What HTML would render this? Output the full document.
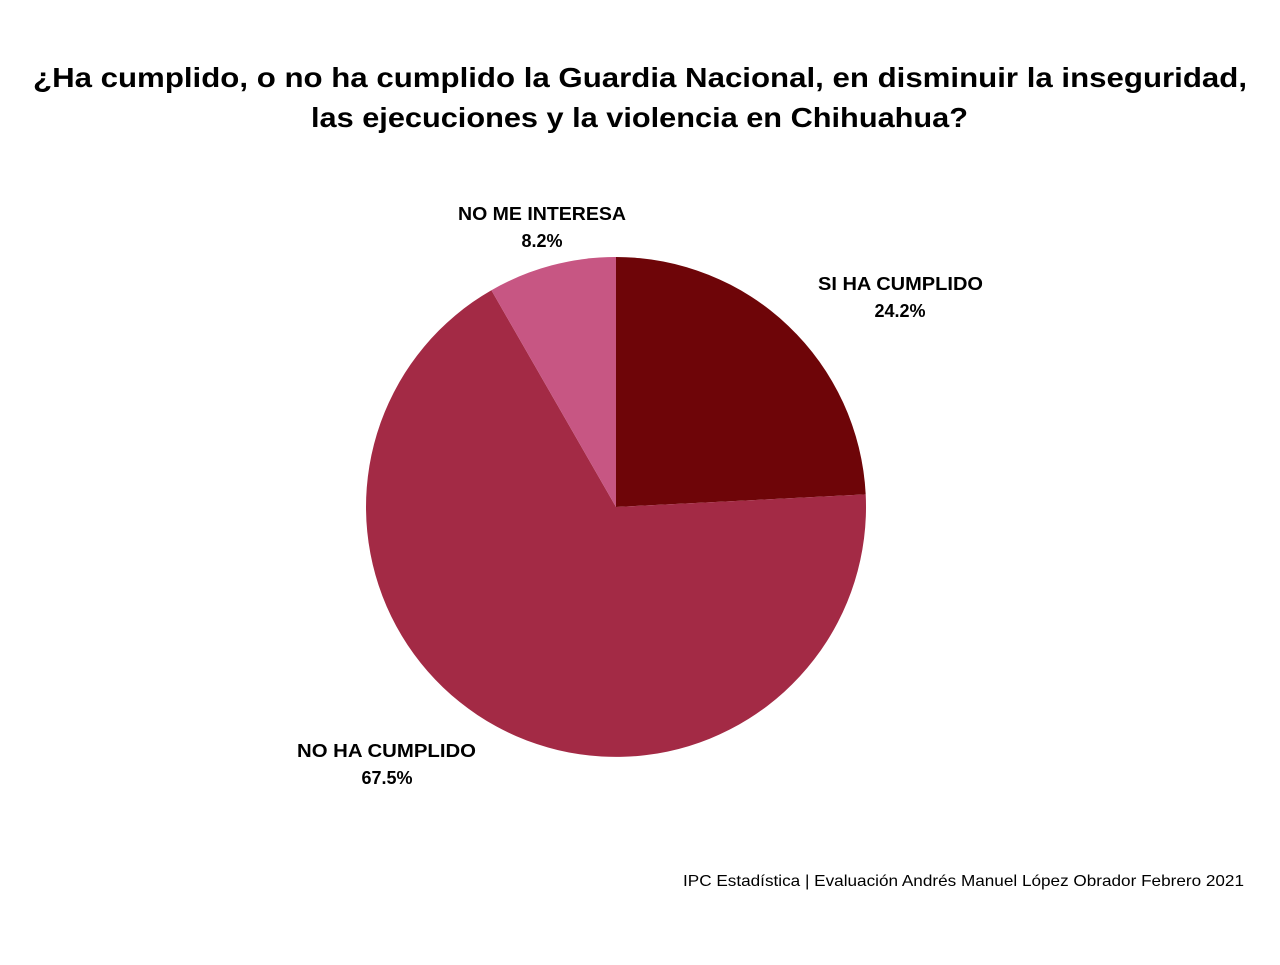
<!DOCTYPE html>
<html><head><meta charset="utf-8"><style>
body{margin:0;background:#fff;width:1280px;height:960px;overflow:hidden;font-family:"Liberation Sans",sans-serif;}
</style></head><body>
<svg width="1280" height="960" xmlns="http://www.w3.org/2000/svg" font-family="Liberation Sans, sans-serif">
<text x="33" y="87" textLength="1214" lengthAdjust="spacingAndGlyphs" font-size="28" font-weight="bold" fill="#000">¿Ha cumplido, o no ha cumplido la Guardia Nacional, en disminuir la inseguridad,</text>
<text x="311" y="127" textLength="657" lengthAdjust="spacingAndGlyphs" font-size="28" font-weight="bold" fill="#000">las ejecuciones y la violencia en Chihuahua?</text>
<path d="M616,507 L616,257 A250,250 0 0 1 865.7,494.4 Z" fill="#6e0508"/>
<path d="M616,507 L865.7,494.4 A250,250 0 1 1 491.4,290.2 Z" fill="#a32a45"/>
<path d="M616,507 L491.4,290.2 A250,250 0 0 1 616,257 Z" fill="#c75683"/>
<g font-size="18" font-weight="bold" fill="#000">
<text x="458" y="220" textLength="168" lengthAdjust="spacingAndGlyphs">NO ME INTERESA</text><text x="542" y="247" text-anchor="middle">8.2%</text>
<text x="818" y="290" textLength="165" lengthAdjust="spacingAndGlyphs">SI HA CUMPLIDO</text><text x="900" y="317" text-anchor="middle">24.2%</text>
<text x="297" y="757" textLength="179" lengthAdjust="spacingAndGlyphs">NO HA CUMPLIDO</text><text x="387" y="784" text-anchor="middle">67.5%</text>
</g>
<text x="683" y="886" textLength="561" lengthAdjust="spacingAndGlyphs" font-size="16" fill="#000">IPC Estadística | Evaluación Andrés Manuel López Obrador Febrero 2021</text>
</svg>
</body></html>
